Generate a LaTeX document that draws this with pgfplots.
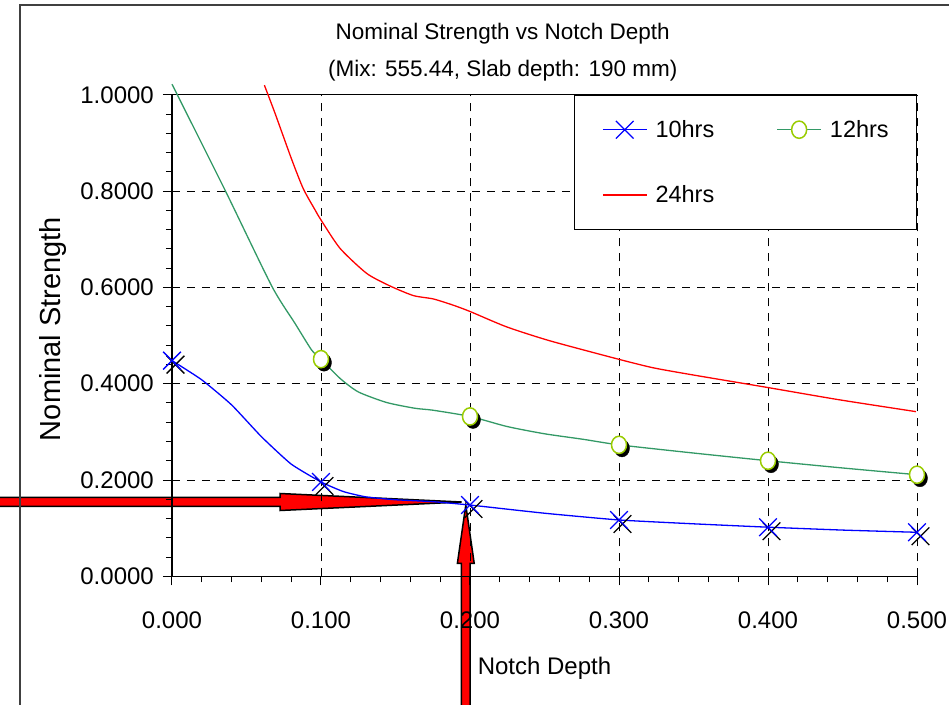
\documentclass[border=0pt]{standalone}
\usepackage{pgfplots}
\pgfplotsset{compat=1.18}
\usepackage{fontspec}
\setmainfont{Liberation Sans}
\definecolor{cblue}{HTML}{0000FF}
\definecolor{cgreen}{HTML}{339966}
\definecolor{cred}{HTML}{FF0000}
\definecolor{cyg}{HTML}{99CC00}
\definecolor{cframe}{HTML}{404040}
\begin{document}
\begin{tikzpicture}
\useasboundingbox (-172bp,-128.7bp) rectangle (777bp,576.3bp);
% annotation arrows (drawn below the chart)
\filldraw[fill=cred, draw=black, line width=1.5bp]
  (-190bp,69.8bp) -- (108bp,69.8bp) -- (108bp,65.8bp) -- (289.7bp,74.3bp)
  -- (108bp,82.8bp) -- (108bp,78.8bp) -- (-190bp,78.8bp) -- cycle;
\filldraw[fill=cred, draw=black, line width=1.5bp]
  (289.4bp,-150bp) -- (289.4bp,13bp) -- (285.4bp,13bp) -- (293.8bp,71.3bp)
  -- (302.2bp,13bp) -- (298.2bp,13bp) -- (298.2bp,-150bp) -- cycle;
\begin{axis}[
  at={(0,0)}, anchor=origin,
  scale only axis, width=745bp, height=481.5bp,
  xmin=0, xmax=0.5, ymin=0, ymax=1,
  clip=false,
  axis x line*=bottom, axis y line*=left,
  axis line style={-, black, line width=1.3bp},
  xtick={0,0.1,0.2,0.3,0.4,0.5},
  ytick={0,0.2,0.4,0.6,0.8,1.0},
  minor x tick num=4, minor y tick num=4,
  tick align=outside,
  major tick length=9bp, minor tick length=6bp,
  every tick/.style={black, line width=1bp},
  grid=major,
  major grid style={black, line width=0.9bp, dash pattern=on 8bp off 7bp},
  tick label style={font=\fontsize{24bp}{26bp}\selectfont, inner sep=0pt},
  /pgf/number format/assume math mode=true,
  x tick label style={/pgf/number format/fixed, /pgf/number format/fixed zerofill, /pgf/number format/precision=3, anchor=base, yshift=-43bp},
  y tick label style={/pgf/number format/fixed, /pgf/number format/fixed zerofill, /pgf/number format/precision=4, anchor=east, xshift=-9bp},
  xlabel={Notch Depth},
  xlabel style={at={(axis description cs:0.5,-0.2035)}, anchor=base, font=\fontsize{24bp}{26bp}\selectfont},
  ylabel={Nominal Strength},
  ylabel style={at={(axis description cs:-0.1503,0.5136)}, anchor=base, font=\fontsize{29bp}{31bp}\selectfont},
  legend columns=2,
  legend cell align=left,
  legend image code/.code={\draw[mark repeat=2, mark phase=2, #1] plot coordinates {(0bp,0bp) (22bp,0bp) (44bp,0bp)};},
  legend style={at={(axis description cs:0.5396,0.9996)}, anchor=north west,
    draw=black, line width=0.9bp, fill=white,
    inner xsep=27.5bp, inner ysep=25bp,
    font=\fontsize{23.5bp}{25bp}\selectfont,
    nodes={inner sep=0pt},
    column sep=8bp, row sep=47bp,
    /tikz/every even column/.append style={column sep=62bp}},
]
% title
\node[anchor=base, font=\fontsize{22.5bp}{24bp}\selectfont] at (axis description cs:0.4439,1.1148) {Nominal Strength vs Notch Depth};
\node[anchor=base, font=\fontsize{22.5bp}{24bp}\selectfont] at (axis description cs:0.4439,1.0380) {(Mix: 555.44, Slab depth: 190 mm)};
% top border of plot area
\draw[black, line width=1.3bp] (axis description cs:0,1) -- (axis description cs:1,1);

% legend entries
\addlegendimage{cblue, line width=1.6bp, mark=x, mark size=12.5bp, mark options={line width=1.3bp}}
\addlegendentry{10hrs}
\addlegendimage{cgreen, line width=1.6bp, mark=*, mark size=7.5bp, mark options={draw=cyg, fill=white, line width=1.5bp, yscale=1.15}}
\addlegendentry{12hrs}
\addlegendimage{draw=cred, line width=1.6bp}
\addlegendentry{24hrs}

% 24hrs curve
\addplot[forget plot, cred, line width=1.3bp, smooth, tension=0.4] coordinates {
(0.062,1.020) (0.0691,0.962) (0.0803,0.866) (0.0881,0.805) (0.096,0.761)
(0.0998,0.741) (0.1128,0.681) (0.1307,0.629) (0.1463,0.603) (0.162,0.583)
(0.1754,0.576) (0.1888,0.563) (0.2,0.550) (0.2246,0.518) (0.2537,0.489)
(0.2995,0.451) (0.323,0.433) (0.35,0.418) (0.399,0.3925) (0.448,0.3665) (0.4993,0.342)};

% 12hrs curve
\addplot[forget plot, cgreen, line width=1.3bp, smooth, tension=0.4] coordinates {
(0,1.022) (0.0356,0.802) (0.0669,0.603) (0.0826,0.525) (0.0937,0.470)
(0.1,0.451) (0.1128,0.411) (0.125,0.383) (0.144,0.361) (0.163,0.349)
(0.175,0.345) (0.2,0.332) (0.225,0.311) (0.25,0.296) (0.276,0.2845)
(0.3,0.273) (0.35,0.256) (0.4,0.240) (0.45,0.225) (0.5,0.211)};

% 10hrs curve
\addplot[forget plot, cblue, line width=1.3bp, smooth, tension=0.3] coordinates {
(0,0.448) (0.02,0.408) (0.04,0.356) (0.06,0.29) (0.08,0.233) (0.1,0.196)
(0.115,0.176) (0.13,0.165) (0.15,0.159) (0.175,0.155) (0.2,0.148)
(0.25,0.131) (0.3,0.117) (0.35,0.109) (0.4,0.102) (0.45,0.096) (0.5,0.0914)};

% marker shadows
\addplot[forget plot, only marks, black, mark=x, mark size=12.5bp, mark options={line width=1.3bp, xshift=3.5bp, yshift=-4bp}] coordinates {
(0,0.448) (0.1,0.196) (0.2,0.148) (0.3,0.117) (0.4,0.102) (0.5,0.0914)};
\addplot[forget plot, only marks, black, mark=*, mark size=7.5bp, mark options={fill=black, yscale=1.15, xshift=3bp, yshift=-3bp}] coordinates {
(0.1,0.451) (0.2,0.332) (0.3,0.273) (0.4,0.240) (0.5,0.211)};

% markers
\addplot[forget plot, only marks, cblue, mark=x, mark size=12.5bp, mark options={line width=1.3bp}] coordinates {
(0,0.448) (0.1,0.196) (0.2,0.148) (0.3,0.117) (0.4,0.102) (0.5,0.0914)};
\addplot[forget plot, only marks, mark=*, mark size=7.5bp, mark options={draw=cyg, fill=white, line width=1.5bp, yscale=1.15}] coordinates {
(0.1,0.451) (0.2,0.332) (0.3,0.273) (0.4,0.240) (0.5,0.211)};
\end{axis}
% chart frame
\draw[cframe, line width=2bp] (-152bp,-140bp) -- (-152bp,571.3bp) -- (800bp,571.3bp);
\end{tikzpicture}
\end{document}
